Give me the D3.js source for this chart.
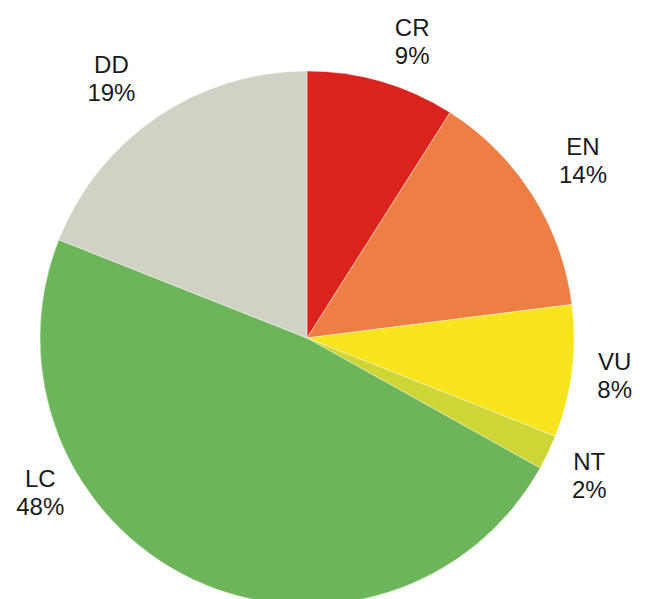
<!DOCTYPE html>
<html><head><meta charset="utf-8">
<script src="https://cdn.jsdelivr.net/npm/d3@7"></script>
<style>html,body{margin:0;padding:0;background:#fff;}svg{display:block;}</style>
</head><body>
<svg id="chart" width="648" height="599"></svg>
<script>
const categories = ["CR","EN","VU","NT","LC","DD"];
const values = [9, 14, 8, 2.1, 47.9, 19];
const labels = ["9%","14%","8%","2%","48%","19%"];
const colors = ["#d9231c","#ee7f44","#f7e41d","#cdd636","#6db55b","#d2d1c6"];
// label placement: angle (deg, clockwise from top) and distance from centre
const labelAngle = [19.5, 57.3, 97, 116, 240, 323];
const labelRadius = [315, 328, 310, 314, 308, 325];

const svg = d3.select("#chart");
const cx = 307, cy = 338, r = 267;
const g = svg.append("g").attr("transform", `translate(${cx},${cy})`);
const pie = d3.pie().sort(null).value(d => d)(values);
const arc = d3.arc().innerRadius(0).outerRadius(r);
g.selectAll("path").data(pie).enter().append("path")
  .attr("d", arc)
  .attr("fill", (d,i) => colors[i])
  .attr("stroke", "#ffffff").attr("stroke-width", 0.4);

const fs = 24, lh = 28;
categories.forEach((c, i) => {
  const a = labelAngle[i] * Math.PI / 180;
  const x = labelRadius[i] * Math.sin(a);
  const y = -labelRadius[i] * Math.cos(a);
  const t = g.append("text")
    .attr("text-anchor", "middle")
    .attr("font-family", "'Liberation Sans', Arial, Helvetica, sans-serif")
    .attr("font-size", fs).attr("fill", "#1a1a1a");
  t.append("tspan").attr("x", x).attr("y", y - lh/2 + fs*0.36).text(c);
  t.append("tspan").attr("x", x).attr("y", y + lh/2 + fs*0.36).text(labels[i]);
});
</script>
</body></html>
